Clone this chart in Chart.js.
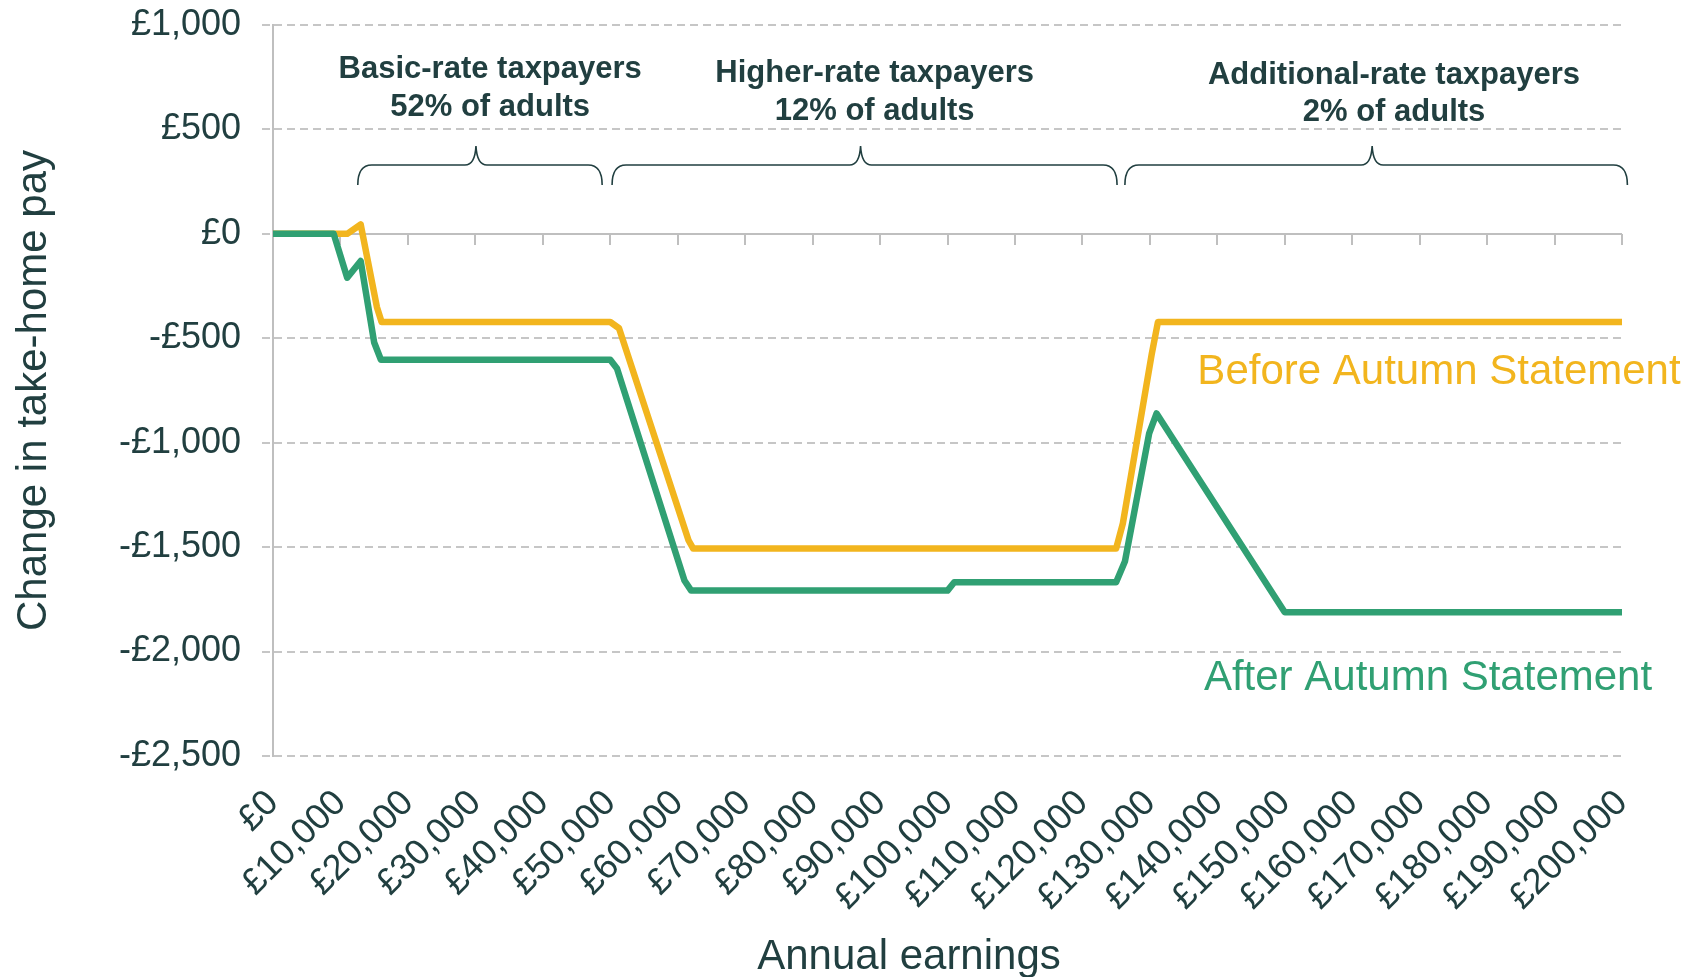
<!DOCTYPE html>
<html>
<head>
<meta charset="utf-8">
<script src="https://cdn.jsdelivr.net/npm/chart.js@4.4.0/dist/chart.umd.min.js"></script>
<style>
html,body{margin:0;padding:0;background:#ffffff;}
#wrap{width:1702px;height:977px;position:relative;}
</style>
</head>
<body>
<div id="wrap"><canvas id="c" width="1702" height="977"></canvas></div>
<script>
// ---------- data ----------
const xTickValues = [0,10000,20000,30000,40000,50000,60000,70000,80000,90000,100000,110000,120000,130000,140000,150000,160000,170000,180000,190000,200000];
const xTickLabels = ['£0','£10,000','£20,000','£30,000','£40,000','£50,000','£60,000','£70,000','£80,000','£90,000','£100,000','£110,000','£120,000','£130,000','£140,000','£150,000','£160,000','£170,000','£180,000','£190,000','£200,000'];
const yTickValues = [-2500,-2000,-1500,-1000,-500,0,500,1000];
const yTickLabels = ['-£2,500','-£2,000','-£1,500','-£1,000','-£500','£0','£500','£1,000'];

const afterEarnings = [0, 9000, 11000, 13000, 15000, 16000, 50000, 51000, 61000, 62000, 100000, 101000, 125000, 126300, 129900, 131000, 150000, 200000];
const afterChange   = [0, 0, -210, -130, -520, -603, -603, -645, -1660, -1708, -1708, -1668, -1668, -1569, -955, -860, -1812, -1812];

const beforeEarnings = [0, 11000, 13000, 15400, 16100, 50000, 51300, 61600, 62300, 125000, 126000, 130300, 131200, 200000];
const beforeChange   = [0, 0, 45, -350, -422, -422, -452, -1467, -1507, -1507, -1386, -572, -422, -422];

const seriesNames = ['After Autumn Statement', 'Before Autumn Statement'];
const bandNames  = ['Basic-rate taxpayers', 'Higher-rate taxpayers', 'Additional-rate taxpayers'];
const bandShares = ['52% of adults', '12% of adults', '2% of adults'];
const braceFrom  = [12570, 50270, 126300];
const braceTo    = [48800, 125140, 200800];
const bandLabelAt = [32200, 89200, 166200];

// ---------- style ----------
const FONT = "'Liberation Sans', Arial, Helvetica, sans-serif";
const TEXT = '#213f40';
const GRID = '#c6c6c6';
const AXIS = '#bfbfbf';
const GREEN = '#30a073';
const YELLOW = '#f2b51e';

const toPts = (xs, ys) => xs.map((x, i) => ({x: x, y: ys[i]}));

const zeroAxisPlugin = {
  id: 'zeroAxis',
  beforeDatasetsDraw(chart) {
    const {ctx, chartArea, scales} = chart;
    const y0 = Math.round(scales.y.getPixelForValue(0));
    ctx.save();
    ctx.strokeStyle = AXIS;
    ctx.lineWidth = 2;
    ctx.beginPath();
    ctx.moveTo(chartArea.left, y0);
    ctx.lineTo(chartArea.right, y0);
    xTickValues.forEach(v => {
      const x = Math.round(scales.x.getPixelForValue(v));
      ctx.moveTo(x, y0);
      ctx.lineTo(x, y0 + 11);
    });
    ctx.stroke();
    ctx.restore();
  }
};

const annotationPlugin = {
  id: 'annotations',
  afterDraw(chart) {
    const {ctx, scales} = chart;
    const xs = scales.x;
    ctx.save();
    // braces
    ctx.strokeStyle = TEXT;
    ctx.lineWidth = 1.6;
    const yEnd = 185, yBar = 165, yTip = 146, r = 14, m = 11;
    for (let i = 0; i < braceFrom.length; i++) {
      const xL = xs.getPixelForValue(braceFrom[i]);
      const xR = xs.getPixelForValue(braceTo[i]);
      const xM = (xL + xR) / 2 - 4;
      ctx.beginPath();
      ctx.moveTo(xL, yEnd);
      ctx.quadraticCurveTo(xL, yBar, xL + r, yBar);
      ctx.lineTo(xM - m, yBar);
      ctx.quadraticCurveTo(xM - 1, yBar, xM, yTip);
      ctx.quadraticCurveTo(xM + 1, yBar, xM + m, yBar);
      ctx.lineTo(xR - r, yBar);
      ctx.quadraticCurveTo(xR, yBar, xR, yEnd);
      ctx.stroke();
    }
    // band labels
    ctx.fillStyle = TEXT;
    ctx.font = "bold 31px " + FONT;
    ctx.textAlign = 'center';
    ctx.textBaseline = 'middle';
    const line1Y = [69, 73, 75];
    const line2Y = [107, 111, 112];
    for (let i = 0; i < bandNames.length; i++) {
      const x = xs.getPixelForValue(bandLabelAt[i]);
      ctx.fillText(bandNames[i], x, line1Y[i]);
      ctx.fillText(bandShares[i], x, line2Y[i]);
    }
    // series labels
    ctx.font = "42px " + FONT;
    ctx.textBaseline = 'alphabetic';
    ctx.fillStyle = YELLOW;
    ctx.fillText(seriesNames[1], 1439, 384);
    ctx.fillStyle = GREEN;
    ctx.fillText(seriesNames[0], 1428, 690);
    // x axis title
    ctx.fillStyle = TEXT;
    ctx.fillText('Annual earnings', 909, 969);
    ctx.restore();
  }
};

new Chart(document.getElementById('c'), {
  type: 'line',
  data: {
    datasets: [
      {
        label: seriesNames[0],
        data: toPts(afterEarnings, afterChange),
        borderColor: GREEN,
        backgroundColor: GREEN,
        borderWidth: 6.5,
        pointRadius: 0,
        tension: 0,
        borderCapStyle: 'round',
        borderJoinStyle: 'round'
      },
      {
        label: seriesNames[1],
        data: toPts(beforeEarnings, beforeChange),
        borderColor: YELLOW,
        backgroundColor: YELLOW,
        borderWidth: 6.5,
        pointRadius: 0,
        tension: 0,
        borderCapStyle: 'round',
        borderJoinStyle: 'round'
      }
    ]
  },
  options: {
    responsive: false,
    animation: false,
    devicePixelRatio: 1,
    layout: {padding: {left: 0, top: 25, right: 80, bottom: 0}},
    plugins: {legend: {display: false}, tooltip: {enabled: false}},
    scales: {
      x: {
        type: 'linear',
        min: 0,
        max: 200000,
        afterBuildTicks: s => { s.ticks = xTickValues.map(v => ({value: v})); },
        afterFit: s => { s.height = 221; s.paddingTop = 0; s.paddingBottom = 0; s.paddingRight = 0; },
        grid: {display: false, drawTicks: false},
        border: {display: false},
        ticks: {
          autoSkip: false,
          maxRotation: 45,
          minRotation: 45,
          padding: 26,
          color: TEXT,
          font: {family: FONT, size: 36},
          callback: v => xTickLabels[xTickValues.indexOf(v)]
        }
      },
      y: {
        type: 'linear',
        min: -2500,
        max: 1000,
        afterBuildTicks: s => { s.ticks = yTickValues.map(v => ({value: v})); },
        afterFit: s => { s.width = 273; s.paddingTop = 0; s.paddingBottom = 0; },
        grid: {color: GRID, lineWidth: 2, tickLength: 11, tickColor: GRID, tickBorderDash: [8, 5]},
        border: {display: true, color: AXIS, width: 2, dash: [8, 5]},
        ticks: {
          padding: 21,
          color: TEXT,
          font: {family: FONT, size: 36},
          callback: v => yTickLabels[yTickValues.indexOf(v)]
        },
        title: {
          display: true,
          text: 'Change in take-home pay',
          color: TEXT,
          font: {family: FONT, size: 42},
          padding: {top: 9, bottom: 0}
        }
      }
    }
  },
  plugins: [zeroAxisPlugin, annotationPlugin]
});
</script>
</body>
</html>
